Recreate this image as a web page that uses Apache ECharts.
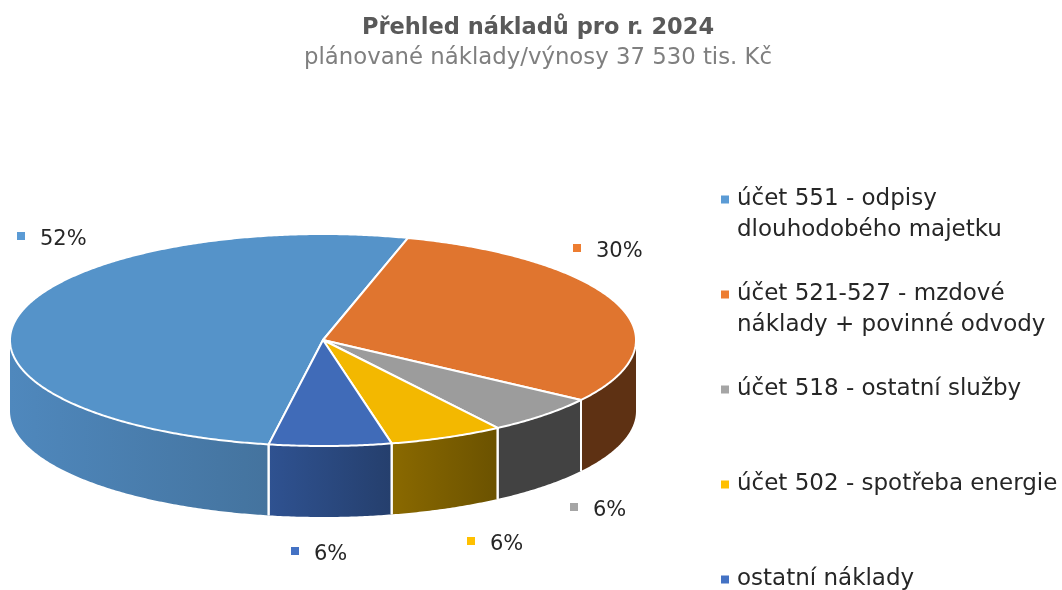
<!DOCTYPE html>
<html>
<head>
<meta charset="utf-8">
<style>
  html, body { margin: 0; background: #fff; }
  #chart { width: 1062px; height: 590px; }
</style>
<script src="https://cdn.jsdelivr.net/npm/echarts@6/dist/echarts.min.js"></script>
</head>
<body>
<div id="chart"></div>
<script>
"use strict";

const categories = [
  "účet 551 - odpisy\ndlouhodobého majetku",
  "účet 521-527 - mzdové\nnáklady + povinné odvody",
  "účet 518 - ostatní služby",
  "účet 502 - spotřeba energie",
  "ostatní náklady",
];
// podíly (popisky je zaokrouhlují)
const shares = [51.6, 30.2, 6.0, 5.9, 6.3];

const FONT = '"DejaVu Sans", sans-serif';
const legendColors = ["#5b9bd5", "#ed7d31", "#a5a5a5", "#ffc000", "#4472c4"];
const topColors = ["#5593c9", "#e0752f", "#9c9c9c", "#f3b800", "#406bb8"];
const wallColors = [
  ["#4f88bd", "#44739e"],
  ["#5e3113", "#5e3113"],
  ["#424242", "#424242"],
  ["#8a6900", "#6b5200"],
  ["#2f5291", "#253f6d"],
];
const labelOffsets = [[-302, -104], [254, -92], [251, 167], [148, 201], [-28, 211]];

const PIE = { cx: 323, cy: 340, rx: 313, ry: 106, depth: 71, first: 190 };

// úhel se měří od horního bodu po směru hodinových ručiček
function rim(deg, drop = 0) {
  const a = (deg * Math.PI) / 180;
  return [PIE.cx + PIE.rx * Math.sin(a), PIE.cy - PIE.ry * Math.cos(a) + drop];
}

function arc(from, to, drop = 0) {
  const pts = [];
  for (let d = from; d < to; d += 0.5) pts.push(rim(d, drop));
  pts.push(rim(to, drop));
  return pts;
}

function sliceRange(i) {
  const total = shares.reduce((s, v) => s + v, 0);
  const before = shares.slice(0, i).reduce((s, v) => s + v, 0);
  const start = PIE.first + (before / total) * 360;
  return [start, start + (shares[i] / total) * 360];
}

function renderSlice(params, api) {
  const i = params.seriesIndex;
  const [start, end] = sliceRange(i);
  const value = api.value(0);
  const children = [];

  // bočnice: jen část řezu v přední půlce elipsy
  const turn = start >= 360 ? 360 : 0;
  const wFrom = Math.max(start - turn, 90);
  const wTo = Math.min(end - turn, 270);
  if (wFrom < wTo) {
    children.push({
      type: "polygon",
      z2: 1,
      shape: { points: arc(wFrom, wTo).concat(arc(wFrom, wTo, PIE.depth).reverse()) },
      style: {
        fill: new echarts.graphic.LinearGradient(0, 0, 1, 0, [
          { offset: 0, color: wallColors[i][0] },
          { offset: 1, color: wallColors[i][1] },
        ]),
      },
    });
    [wFrom, wTo].forEach((d) => {
      if (d === 90 || d === 270) return;
      const [x1, y1] = rim(d);
      const [x2, y2] = rim(d, PIE.depth);
      children.push({
        type: "line",
        z2: 3,
        shape: { x1, y1, x2, y2 },
        style: { stroke: "#fff", lineWidth: 2 },
      });
    });
  }

  children.push({
    type: "polygon",
    z2: 4,
    shape: { points: [[PIE.cx, PIE.cy]].concat(arc(start, end)) },
    style: { fill: topColors[i], stroke: "#fff", lineWidth: 2, lineJoin: "round" },
  });

  const lx = PIE.cx + labelOffsets[i][0];
  const ly = PIE.cy + labelOffsets[i][1];
  children.push({
    type: "rect",
    z2: 5,
    shape: { x: lx - 4, y: ly - 4, width: 8, height: 8 },
    style: { fill: legendColors[i] },
  });
  children.push({
    type: "text",
    z2: 5,
    style: {
      x: lx + 19,
      y: ly + 4,
      text: Math.round(value) + "%",
      font: `21px ${FONT}`,
      fill: "#262626",
      verticalAlign: "middle",
    },
  });
  return { type: "group", children };
}

const chart = echarts.init(document.getElementById("chart"));
chart.setOption({
  animation: false,
  backgroundColor: "#fff",
  title: {
    text: "Přehled nákladů pro r. 2024",
    subtext: "plánované náklady/výnosy 37 530 tis. Kč",
    left: 538,
    top: 17,
    textAlign: "center",
    itemGap: 7,
    padding: 0,
    textStyle: { fontFamily: FONT, fontSize: 22.5, fontWeight: "bold", color: "#595959" },
    subtextStyle: { fontFamily: FONT, fontSize: 22.8, color: "#7f7f7f" },
  },
  legend: {
    orient: "vertical",
    left: 721,
    top: 184,
    height: 470,
    padding: 0,
    itemWidth: 11,
    itemHeight: 62,
    itemGap: 33,
    selectedMode: false,
    // čtvereček sedí u prvního řádku, tah přes rámeček drží jeho výšku
    icon: "path://M0 11.5H8V19.5H0Z M0 0H11 M0 62H11",
    data: categories,
    formatter: (name) => (name.includes("\n") ? name : name + "\n "),
    textStyle: { fontFamily: FONT, fontSize: 23, lineHeight: 31, color: "#262626" },
  },
  series: categories.map((name, i) => ({
    type: "custom",
    name,
    coordinateSystem: "none",
    itemStyle: { color: legendColors[i] },
    renderItem: renderSlice,
    data: [[shares[i]]],
  })),
});
</script>
</body>
</html>
